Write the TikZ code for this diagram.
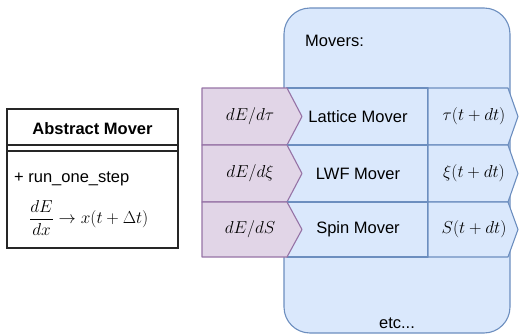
\documentclass[tikz,border=0pt]{standalone}
\usepackage{fontspec}
\setmainfont{Liberation Sans}
\definecolor{bluefill}{HTML}{DAE8FC}
\definecolor{bluedraw}{HTML}{6C8EBF}
\definecolor{purplefill}{HTML}{E1D5E7}
\definecolor{purpledraw}{HTML}{9673A6}
\begin{document}
\begin{tikzpicture}[x=1pt,y=-1pt,
  every node/.style={font=\fontsize{16.5}{19}\selectfont, inner sep=0pt},
  mathtext/.style={font=\fontsize{17.8}{21}\selectfont},
  bluebox/.style={fill=bluefill, draw=bluedraw, line width=1.1pt, line join=round},
  purplebox/.style={fill=purplefill, draw=purpledraw, line width=1.1pt, line join=round},
  umlline/.style={draw=black!85, line width=1.2pt}]
\useasboundingbox (0,0) rectangle (523,335);

% container of the movers
\draw[bluebox, rounded corners=26pt] (284,8) rectangle (510,333);
\node[anchor=base west] (moverstitle) at (305,46) {Movers:};
\node[anchor=base] (etc) at (397,328) {etc...};

% one row per mover: gradient in, mover, updated quantity out
\foreach \i/\top/\bot/\grad/\name/\out in {
    1/88/145/{$dE/d\tau$}/Lattice Mover/{$\tau(t+dt)$},
    2/145/202/{$dE/d\xi$}/LWF Mover/{$\xi(t+dt)$},
    3/202/257/{$dE/dS$}/Spin Mover/{$S(t+dt)$}} {
  \pgfmathsetmacro\mid{(\top+\bot)/2}
  \draw[bluebox] (287,\top) rectangle (428,\bot);
  \draw[bluebox] (428,\top) -- (508,\top) -- (518,\mid) -- (508,\bot) -- (428,\bot) -- cycle;
  \draw[purplebox] (202,\top) -- (287,\top) -- (302,\mid) -- (287,\bot) -- (202,\bot) -- cycle;
  \node[mathtext] (grad\i) at (250,\mid) {\grad};
  \node (mover\i) at (358,\mid) {\name};
  \node[mathtext] (out\i) at (474,\mid) {\out};
}

% abstract base class box
\draw[umlline] (7,109) rectangle (178,248);
\draw[umlline] (7,145) -- (178,145);
\draw[umlline] (7,151) -- (178,151);
\node[font=\fontsize{16.5}{19}\selectfont\bfseries] (abstract) at (92.5,129) {Abstract Mover};
\node[anchor=base west] (method) at (14,182) {+ run\_one\_step};
\node[anchor=west, font=\fontsize{18}{22}\selectfont] (formula) at (29,218) {$\displaystyle\frac{dE}{dx}\to x(t+\Delta t)$};
\end{tikzpicture}
\end{document}
